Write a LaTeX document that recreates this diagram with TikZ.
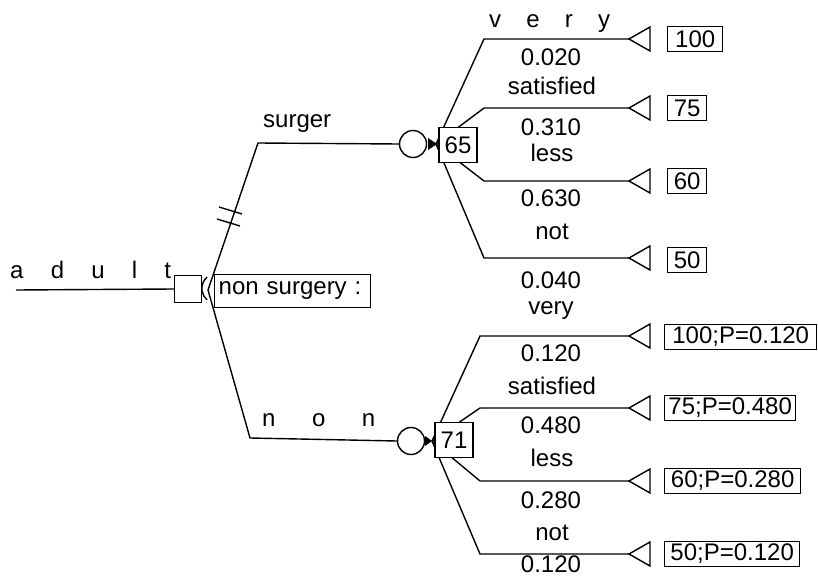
\documentclass[tikz,border=0pt]{standalone}
\usepackage{fontspec}
\setmainfont{Liberation Sans}
\begin{document}
\begin{tikzpicture}[x=1pt,y=-1pt,
  every node/.style={font=\fontsize{24}{27}\selectfont, inner sep=0pt},
  wire/.style={line width=1.4pt},
  box/.style={draw, line width=1.4pt, fill=white, inner xsep=3pt, inner ysep=2pt, minimum height=25pt},
  decision/.style={draw, line width=1.4pt, fill=white, minimum size=27pt, inner sep=0pt},
  chance/.style={draw, line width=1.4pt, fill=white, circle, minimum size=27pt, inner sep=0pt},
  lbl/.style={anchor=center},
  term/.style={draw, line width=1.4pt, fill=white, line join=miter}
]
\useasboundingbox (0,0) rectangle (818,577);

% ---- root and decision node
\coordinate (start) at (16,290);
\node[decision] (dec) at (188,289) {};
\draw[wire] (start) -- (dec.west);
\node[anchor=base west] (adult) at (10,278) {\makebox[161pt][s]{a\hfill d\hfill u\hfill l\hfill t}};
\coordinate (fork) at (208,290);
\draw[wire] (dec.east) ++(5,-12) arc[start angle=130, end angle=230, radius=15pt];

% ---- decision branches
\coordinate (s1) at (258,143);
\coordinate (n1) at (250,438);
\node[chance] (c1) at (413,144) {};
\node[chance] (c2) at (411,441) {};
\draw[wire] (fork) -- (s1) -- (c1.west);
\draw[wire] (fork) -- (n1) -- (c2.west);
% tick marks on the chosen branch
\draw[wire] (219,207) -- (242,214);
\draw[wire] (217,219) -- (240,226);

\node[anchor=base west] (surg) at (263,128) {surger};
\node[anchor=base west] (non) at (262,426) {\makebox[113pt][s]{n\hfill o\hfill n}};

% ---- upper chance fan
\coordinate (f1) at (436,144);
\foreach \y/\n in {39/a,108/b,181/c,258/d}{
  \coordinate (u\n) at (484,\y);
  \coordinate (ut\n) at (629,\y);
  \draw[wire] (f1) -- (u\n) -- (ut\n);
  \draw[term] (ut\n) -- ++(21,-12) -- ++(0,24) -- cycle;
}
\fill (428,138) -- (437,144) -- (428,150) -- cycle;
\node[box, minimum width=38pt, minimum height=35pt] (v65) at (458,145) {65};

\node[anchor=base west] (uvery) at (489,28) {\makebox[121pt][s]{v\hfill e\hfill r\hfill y}};
\node[lbl] (up1) at (551,57) {0.020};
\node[lbl] (un2) at (552,86) {satisfied};
\node[lbl] (up2) at (551,127) {0.310};
\node[lbl] (un3) at (552,153) {less};
\node[lbl] (up3) at (551,198) {0.630};
\node[lbl] (un4) at (552,232) {not};
\node[lbl] (up4) at (551,280) {0.040};

\node[box, anchor=west, minimum width=55pt] (o100) at (667,39) {100};
\node[box, anchor=west, minimum width=39pt] (o75) at (667,108) {75};
\node[box, anchor=west, minimum width=39pt] (o60) at (667,181) {60};
\node[box, anchor=west, minimum width=39pt] (o50) at (667,260) {50};

% ---- lower chance fan
\coordinate (f2) at (432,441);
\foreach \y/\n in {336/a,408/b,481/c,554/d}{
  \coordinate (l\n) at (480,\y);
  \coordinate (lt\n) at (629,\y);
  \draw[wire] (f2) -- (l\n) -- (lt\n);
  \draw[term] (lt\n) -- ++(21,-12) -- ++(0,24) -- cycle;
}
\fill (425,436) -- (432,441) -- (425,446) -- cycle;
\node[box, minimum width=38pt, minimum height=35pt] (v71) at (454,440) {71};

\node[lbl] (ln1) at (551,311) {very};
\node[lbl] (lp1) at (551,353) {0.120};
\node[lbl] (ln2) at (552,386) {satisfied};
\node[lbl] (lp2) at (551,425) {0.480};
\node[lbl] (ln3) at (552,458) {less};
\node[lbl] (lp3) at (551,500) {0.280};
\node[lbl] (ln4) at (552,533) {not};
\node[lbl] (lp4) at (551,564) {0.120};

\node[box, anchor=west, minimum width=152pt] (q100) at (664,337) {100;P=0.120};
\node[box, anchor=west, minimum width=131pt] (q75) at (664,408) {75;P=0.480};
\node[box, anchor=west, minimum width=136pt] (q60) at (664,481) {60;P=0.280};
\node[box, anchor=west, minimum width=135pt] (q50) at (664,554) {50;P=0.120};

% ---- label box on the decision fork
\node[box, anchor=west, minimum height=33pt, inner xsep=4pt, text width=148pt, align=left] (nsbox) at (214,291) {non surgery :};
\end{tikzpicture}
\end{document}
